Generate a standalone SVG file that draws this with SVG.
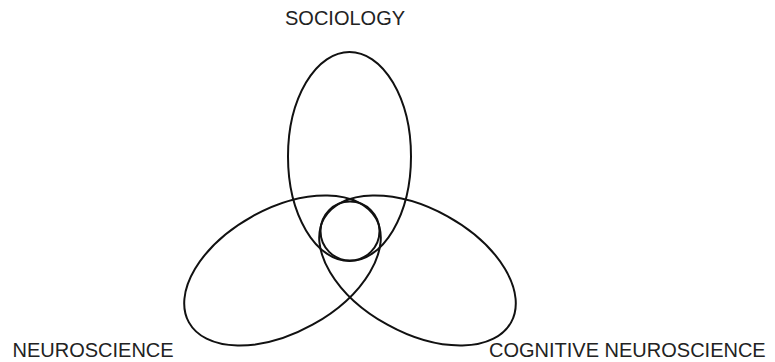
<svg xmlns="http://www.w3.org/2000/svg" width="775" height="362" viewBox="0 0 775 362">
<style>
.s{fill:none;stroke:#111;stroke-width:2}
.t{font-family:"Liberation Sans",Arial,sans-serif;font-size:20px;fill:#222}
</style>
<rect width="775" height="362" fill="#fff"/>
<g id="sociology"><ellipse class="s" cx="349.5" cy="156.5" rx="61.5" ry="104.5"/><text class="t" x="285" y="25">SOCIOLOGY</text></g>
<g id="neuroscience"><ellipse class="s" cx="282.5" cy="270.5" rx="107" ry="62" transform="rotate(-29 282.5 270.5)"/><text class="t" x="12.5" y="357">NEUROSCIENCE</text></g>
<g id="cognitive-neuroscience"><ellipse class="s" cx="417.5" cy="270.5" rx="107" ry="62" transform="rotate(29 417.5 270.5)"/><text class="t" x="489" y="357">COGNITIVE NEUROSCIENCE</text></g>
<g id="center"><circle class="s" cx="350" cy="231" r="29.5"/></g>
<g id="connectors"/>
</svg>
